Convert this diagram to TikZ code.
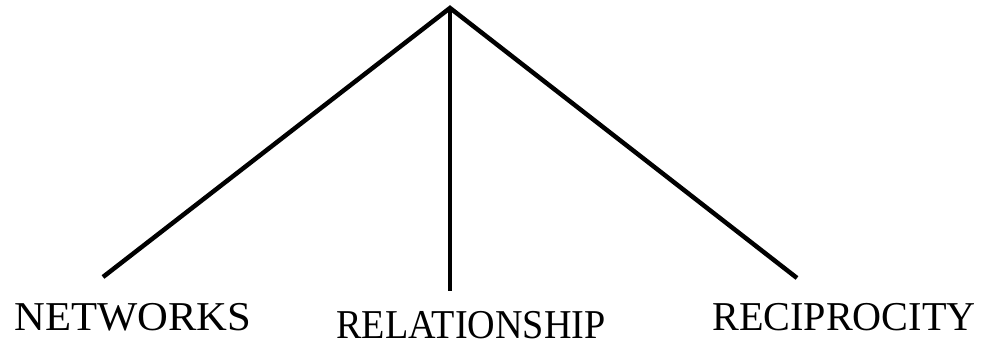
\documentclass[tikz,border=0pt]{standalone}
\usepackage{fontspec}
\setmainfont{Liberation Serif}
\begin{document}
\begin{tikzpicture}[x=1pt,y=-1pt,
  branch/.style={line width=4.5pt},
  lbl/.style={anchor=base,inner sep=0pt,font=\fontsize{41}{41}\selectfont}]
\useasboundingbox (0,0) rectangle (988,340);
\coordinate (top) at (450,8);
\coordinate (l) at (103,277);
\coordinate (m) at (450,291);
\coordinate (r) at (797,278);
\draw[branch] (l) -- (top) -- (r);
\draw[branch] (top) -- (m);
\node[lbl] (net) at (133,330) {\scalebox{1.04}[1]{NETWORKS}};
\node[lbl] (rel) at (471,338) {\scalebox{0.93}[1]{RELATIONSHIP}};
\node[lbl] (rec) at (844,330) {\scalebox{0.98}[1]{RECIPROCITY}};
\end{tikzpicture}
\end{document}
